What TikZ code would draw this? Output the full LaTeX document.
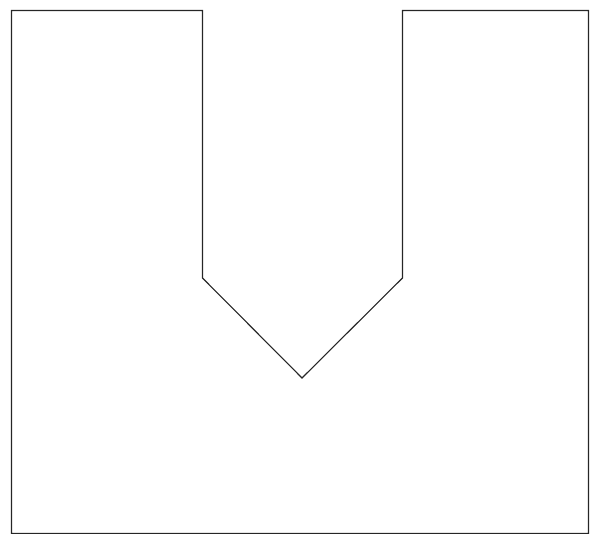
\documentclass[tikz,border=0pt]{standalone}
\begin{document}
\begin{tikzpicture}[x=1pt,y=-1pt,outline/.style={draw=black!85,line width=1.1pt,line join=miter}]
\useasboundingbox (0,0) rectangle (590,534);
\draw[outline] (11.5,10.5) -- (202.5,10.5) -- (202.5,278) -- (302,378) -- (402.5,278) -- (402.5,10.5) -- (588.5,10.5) -- (588.5,533.5) -- (11.5,533.5) -- cycle;
\end{tikzpicture}
\end{document}
